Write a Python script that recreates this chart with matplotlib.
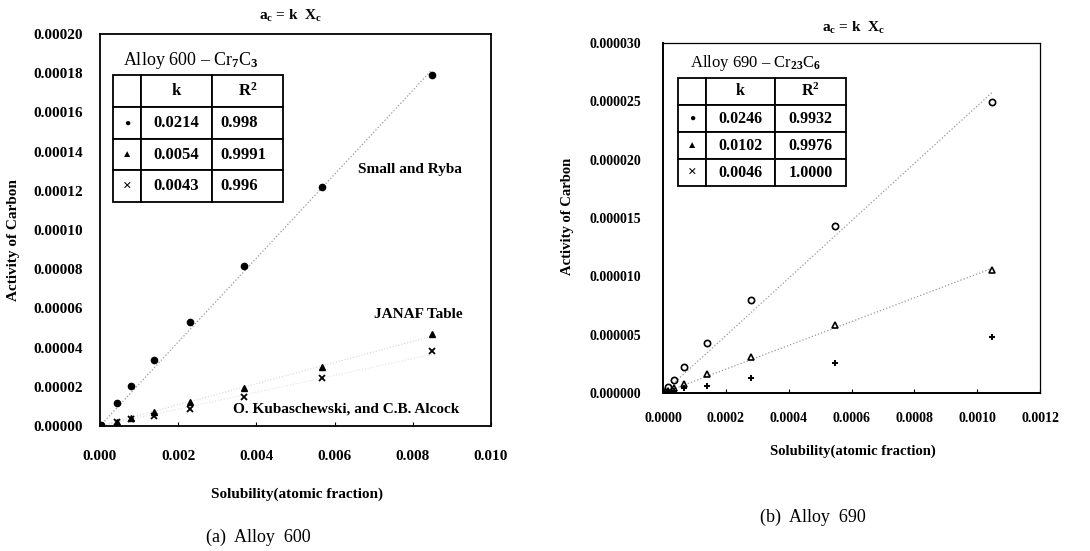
import numpy as np
import matplotlib
matplotlib.use("Agg")
import matplotlib.pyplot as plt

plt.rcParams['font.family'] = ['Liberation Serif', 'DejaVu Sans']
plt.rcParams['mathtext.fontset'] = 'custom'
plt.rcParams['mathtext.rm'] = 'Liberation Serif'
plt.rcParams['mathtext.it'] = 'Liberation Serif'
plt.rcParams['mathtext.bf'] = 'Liberation Serif:bold'
plt.rcParams['font.weight'] = 'bold'

# Alloy 600 - Cr7C3
x600 = [0.00002, 0.00043, 0.00080, 0.00138, 0.00230, 0.00368, 0.00568, 0.00849]
small_ryba = [0.0000004, 0.0000117, 0.0000204, 0.0000337, 0.0000531, 0.0000816, 0.000122, 0.000179]
janaf = [0.0000003, 0.0000020, 0.0000040, 0.0000072, 0.0000122, 0.0000194, 0.0000303, 0.0000469]
kubasch = [0.0000002, 0.0000018, 0.0000034, 0.0000052, 0.0000085, 0.0000148, 0.0000245, 0.0000383]
k600 = [0.0214, 0.0054, 0.0043]
r2_600 = ['0.998', '0.9991', '0.996']

# Alloy 690 - Cr23C6
x690 = [0.000003, 0.000016, 0.000035, 0.0000668, 0.000140, 0.000280, 0.000547, 0.001047]
s690_a = [0.0000001, 0.0000005, 0.0000011, 0.0000022, 0.0000043, 0.0000080, 0.0000143, 0.0000249]
s690_b = [0.00000005, 0.0000002, 0.0000004, 0.0000008, 0.0000016, 0.0000031, 0.0000058, 0.0000105]
s690_c = [0.00000002, 0.0000001, 0.0000002, 0.0000004, 0.0000006, 0.0000013, 0.0000026, 0.0000048]
k690 = [0.0246, 0.0102, 0.0046]
r2_690 = ['0.9932', '0.9976', '1.0000']

table_marks = ['\u25cf', '\u25b2', '\u00d7']
mark_sizes = [7.5, 7.5, 11]


def style_table(tab, numsize, left_col=None):
    tab.auto_set_font_size(False)
    for (r, c), cell in tab.get_celld().items():
        cell.set_linewidth(1.3)
        cell.set_facecolor('white')
        txt = cell.get_text()
        if c == 0 and r > 0:
            txt.set_fontsize(mark_sizes[r - 1])
        else:
            txt.set_fontsize(numsize)
        if left_col is not None and c == left_col and r > 0:
            cell._loc = 'left'
            cell.PAD = 0.12
            txt.set_horizontalalignment('left')


fig = plt.figure(figsize=(10.9, 5.51), dpi=100)

# ---------- (a) Alloy 600 ----------
ax1 = fig.add_axes([0.0917, 0.2269, 0.3587, 0.7114])
xl = np.array([0, x600[-1]])
ax1.plot(xl, k600[0] * xl, ':', color='#999999', lw=0.9)
ax1.plot(xl, k600[1] * xl, ':', color='#d5d5d5', lw=0.8)
ax1.plot(xl, k600[2] * xl, ':', color='#e2e2e2', lw=0.8)
ax1.plot(x600, small_ryba, 'o', color='black', ms=4.5, ls='none')
ax1.plot(x600, janaf, '^', color='black', ms=4.5, ls='none')
ax1.plot(x600, kubasch, 'x', color='black', ms=4.5, mew=1.3, ls='none')

ax1.set_xlim(0, 0.010)
ax1.set_ylim(0, 0.00020)
xt1 = np.arange(0, 0.0101, 0.002)
yt1 = np.arange(0, 0.000201, 0.00002)
ax1.set_xticks(xt1)
ax1.set_yticks(yt1)
ax1.set_xticklabels(['%.3f' % v for v in xt1])
ax1.set_yticklabels(['%.5f' % v for v in yt1])
ax1.tick_params(axis='x', direction='in', length=3, pad=17, labelsize=11)
ax1.tick_params(axis='y', direction='in', length=0, pad=12, labelsize=11)
for s in ax1.spines.values():
    s.set_linewidth(1.3)

ax1.text(0.0066, 0.000131, 'Small and Ryba', fontsize=11, va='center')
ax1.text(0.0070, 0.0000571, 'JANAF Table', fontsize=11, va='center')
ax1.text(0.0034, 0.0000087, 'O. Kubaschewski, and C.B. Alcock', fontsize=11, va='center')
ax1.text(0.00059, 0.0001867, 'Alloy 600 \u2013 Cr$_{7}$C$_{3}$', fontsize=13,
         va='center', fontweight='normal')

cells1 = [['', 'k', 'R$^2$']] + [[m, '%.4f' % k, r] for m, k, r in zip(table_marks, k600, r2_600)]
t1 = ax1.table(cellText=cells1, colWidths=[28, 71, 71], cellLoc='center',
               bbox=[0.033, 0.571, 0.435, 0.324])
style_table(t1, 12, left_col=2)

fig.text(0.266, 0.971, 'a$_\\mathbf{c}$ = k  X$_\\mathbf{c}$', ha='center', va='center', fontsize=11)
fig.text(0.012, 0.564, 'Activity of Carbon', rotation=90, ha='center', va='center', fontsize=11)
fig.text(0.2725, 0.1034, 'Solubility(atomic fraction)', ha='center', va='center', fontsize=11)
fig.text(0.2367, 0.0254, '(a)  Alloy  600', ha='center', va='center', fontsize=13, fontweight='normal')

# ---------- (b) Alloy 690 ----------
ax2 = fig.add_axes([0.6083, 0.2868, 0.3459, 0.6352])
xr = np.array([0, x690[-1]])
ax2.plot(xr, k690[0] * xr, ':', color='#999999', lw=0.9)
ax2.plot(xr, k690[1] * xr, ':', color='#999999', lw=0.9)
ax2.plot(x690, s690_a, 'o', mfc='none', mec='black', ms=4.5, mew=1.2, ls='none')
ax2.plot(x690, s690_b, '^', mfc='none', mec='black', ms=4.5, mew=1.2, ls='none')
ax2.plot(x690, s690_c, '+', color='black', ms=5, mew=1.4, ls='none')

ax2.set_xlim(0, 0.0012)
ax2.set_ylim(0, 0.000030)
xt2 = np.arange(0, 0.00121, 0.0002)
yt2 = np.arange(0, 0.0000301, 0.000005)
ax2.set_xticks(xt2)
ax2.set_yticks(yt2)
ax2.set_xticklabels(['%.4f' % v for v in xt2])
ax2.set_yticklabels(['%.6f' % v for v in yt2])
ax2.tick_params(axis='x', direction='in', length=3, pad=14, labelsize=10)
ax2.tick_params(axis='y', direction='in', length=0, pad=16, labelsize=10)
ax2.spines['left'].set_linewidth(1.4)
ax2.spines['bottom'].set_linewidth(1.4)
ax2.spines['top'].set_linewidth(0.9)
ax2.spines['right'].set_linewidth(0.9)

ax2.text(0.000086, 0.0000283, 'Alloy 690 \u2013 Cr$_{23}$C$_{6}$', fontsize=12,
         va='center', fontweight='normal')

cells2 = [['', 'k', 'R$^2$']] + [[m, '%.4f' % k, r] for m, k, r in zip(table_marks, k690, r2_690)]
t2 = ax2.table(cellText=cells2, colWidths=[28, 69, 71], cellLoc='center',
               bbox=[0.040, 0.591, 0.445, 0.309])
style_table(t2, 11.5)

fig.text(0.7826, 0.949, 'a$_\\mathbf{c}$ = k  X$_\\mathbf{c}$', ha='center', va='center', fontsize=11)
fig.text(0.521, 0.608, 'Activity of Carbon', rotation=90, ha='center', va='center', fontsize=10.5)
fig.text(0.7826, 0.1815, 'Solubility(atomic fraction)', ha='center', va='center', fontsize=10.5)
fig.text(0.7459, 0.0617, '(b)  Alloy  690', ha='center', va='center', fontsize=13, fontweight='normal')

fig.savefig('out.png', dpi=100)
